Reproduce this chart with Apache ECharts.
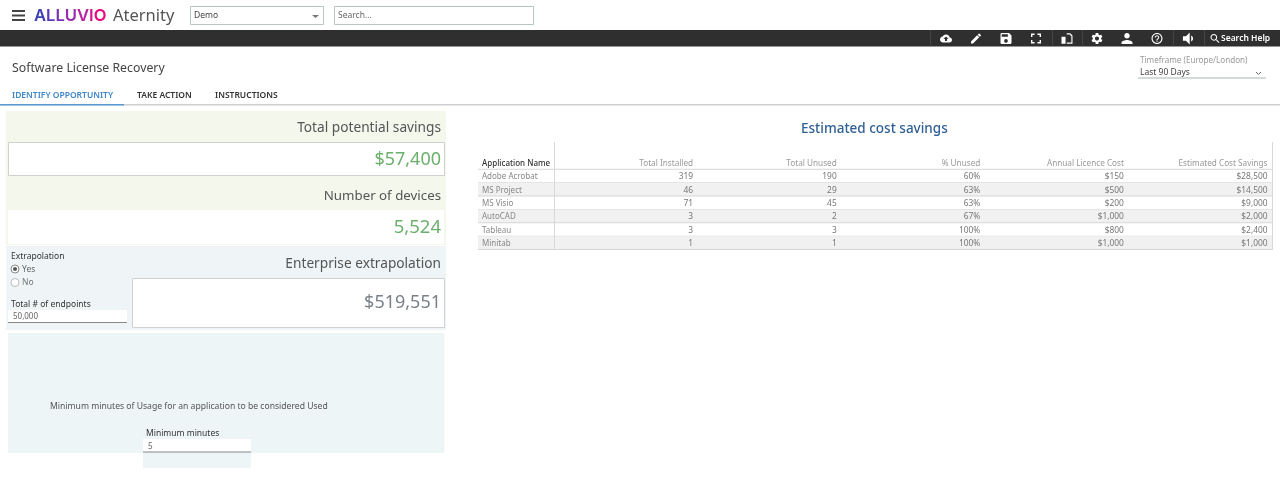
<!DOCTYPE html>
<html lang="en">
<head>
<meta charset="utf-8">
<title>Software License Recovery</title>
<style>
  html, body { margin: 0; padding: 0; background: #fff; overflow: hidden; }
  #main { width: 1280px; height: 495px; }
</style>
</head>
<body>
<div id="main"></div>
<script src="https://cdn.jsdelivr.net/npm/echarts@6/dist/echarts.min.js"></script>
<script>
// table data
var applications = ['Adobe Acrobat', 'MS Project', 'MS Visio', 'AutoCAD', 'Tableau', 'Minitab'];
var columnHeaders = ['Total Installed', 'Total Unused', '% Unused', 'Annual Licence Cost', 'Estimated Cost Savings'];
var totalInstalled = [319, 46, 71, 3, 3, 1];
var totalUnused = [190, 29, 45, 2, 3, 1];
var percentUnused = [60, 63, 63, 67, 100, 100];
var licenceCost = [150, 500, 200, 1000, 800, 1000];
var costSavings = [28500, 14500, 9000, 2000, 2400, 1000];

// headline numbers
var potentialSavings = '$57,400';
var deviceCount = '5,524';
var enterpriseExtrapolation = '$519,551';
var totalEndpoints = '50,000';
var minimumMinutes = '5';

var FONT = '"Noto Sans", sans-serif';
var NAME_HEADER = 'Application Name';
var yCategories = ['', NAME_HEADER].concat(applications);

function money(v) { return '$' + v.toLocaleString('en-US'); }

// one row per column, formatted the way the table shows it
var cells = [];
columnHeaders.forEach(function (h, c) { cells.push({ value: [c, 1], text: h, head: true }); });
applications.forEach(function (app, i) {
  var row = i + 2;
  cells.push({ value: [0, row], text: String(totalInstalled[i]) });
  cells.push({ value: [1, row], text: String(totalUnused[i]) });
  cells.push({ value: [2, row], text: percentUnused[i] + '%' });
  cells.push({ value: [3, row], text: money(licenceCost[i]) });
  cells.push({ value: [4, row], text: money(costSavings[i]) });
});

var rowBands = [];
for (var r = 1; r < yCategories.length; r++) rowBands.push({ value: [0, r] });

// page furniture helpers
function txt(x, y, text, size, fill, opt) {
  opt = opt || {};
  return {
    type: 'text', x: x, y: y + 1, silent: true,  // middle sits about 1px high for this font
    style: {
      text: text, fontSize: size, fill: fill, fontFamily: opt.family || FONT,
      fontWeight: opt.weight || 'normal', align: opt.align || 'left', verticalAlign: 'middle'
    }
  };
}
function box(x, y, w, h, fill, stroke) {
  return {
    type: 'rect', silent: true, shape: { x: x, y: y, width: w, height: h },
    style: { fill: fill, stroke: stroke || null, lineWidth: 1 }
  };
}

// toolbar glyphs: centre x, drawn size, path
var toolbarIcons = [
  [946, 12, 'M19.35 10.04C18.67 6.59 15.64 4 12 4 9.11 4 6.6 5.64 5.35 8.04 2.34 8.36 0 10.91 0 14c0 3.31 2.69 6 6 6h13c2.76 0 5-2.24 5-5 0-2.64-2.05-4.78-4.65-4.96zM14 13v4h-4v-4H7l5-5 5 5h-3z'],
  [976, 10, 'M3 17.25V21h3.75L17.81 9.94l-3.75-3.75L3 17.25zM20.71 7.04c.39-.39.39-1.02 0-1.41l-2.34-2.34c-.39-.39-1.02-.39-1.41 0l-1.83 1.83 3.75 3.75 1.83-1.83z'],
  [1006, 11, 'M17 3H5c-1.11 0-2 .9-2 2v14c0 1.1.89 2 2 2h14c1.1 0 2-.9 2-2V7l-4-4zm-5 16c-1.66 0-3-1.34-3-3s1.34-3 3-3 3 1.34 3 3-1.34 3-3 3zm3-10H5V5h10v4z'],
  [1036, 10, 'M7 14H5v5h5v-2H7v-3zm-2-4h2V7h3V5H5v5zm12 7h-3v2h5v-5h-2v3zM14 5v2h3v3h2V5h-5z'],
  [1067, 11, 'M3 9h7v12H3zM12 3h6l4 4v14H12v-2h8V8l-3-3h-5z'],
  [1097, 11, 'M19.14 12.94c.04-.3.06-.61.06-.94 0-.32-.02-.64-.07-.94l2.03-1.58c.18-.14.23-.41.12-.61l-1.92-3.32c-.12-.22-.37-.29-.59-.22l-2.39.96c-.5-.38-1.03-.7-1.62-.94l-.36-2.54c-.04-.24-.24-.41-.48-.41h-3.84c-.24 0-.43.17-.47.41l-.36 2.54c-.59.24-1.13.57-1.62.94l-2.39-.96c-.22-.08-.47 0-.59.22L2.74 8.87c-.12.21-.08.47.12.61l2.03 1.58c-.05.3-.09.63-.09.94s.02.64.07.94l-2.03 1.58c-.18.14-.23.41-.12.61l1.92 3.32c.12.22.37.29.59.22l2.39-.96c.5.38 1.03.7 1.62.94l.36 2.54c.05.24.24.41.48.41h3.84c.24 0 .44-.17.47-.41l.36-2.54c.59-.24 1.13-.56 1.62-.94l2.39.96c.22.08.47 0 .59-.22l1.92-3.32c.12-.22.07-.47-.12-.61l-2.01-1.58zM12 15.6c-1.98 0-3.6-1.62-3.6-3.6s1.62-3.6 3.6-3.6 3.6 1.62 3.6 3.6-1.62 3.6-3.6 3.6z'],
  [1127, 11, 'M12 12c2.21 0 4-1.79 4-4s-1.79-4-4-4-4 1.79-4 4 1.79 4 4 4zm0 2c-2.67 0-8 1.34-8 4v2h16v-2c0-2.66-5.33-4-8-4z'],
  [1157, 11, 'M11 18h2v-2h-2v2zm1-16C6.48 2 2 6.48 2 12s4.48 10 10 10 10-4.48 10-10S17.52 2 12 2zm0 18c-4.41 0-8-3.59-8-8s3.59-8 8-8 8 3.59 8 8-3.59 8-8 8zm0-14c-2.21 0-4 1.79-4 4h2c0-1.1.9-2 2-2s2 .9 2 2c0 2-3 1.75-3 5h2c0-2.25 3-2.5 3-5 0-2.21-1.79-4-4-4z'],
  [1188, 12, 'M3 9v6h4l5 5V4L7 9H3zm13.5 3c0-1.77-1.02-3.29-2.5-4.03v8.05c1.48-.73 2.5-2.25 2.5-4.02z'],
  [1215, 9, 'M15.5 14h-.79l-.28-.27C15.41 12.59 16 11.11 16 9.5 16 5.91 13.09 3 9.5 3S3 5.91 3 9.5 5.91 16 9.5 16c1.61 0 3.09-.59 4.23-1.57l.27.28v.79l5 4.99L20.49 19l-4.99-5zm-6 0C7.01 14 5 11.99 5 9.5S7.01 5 9.5 5 14 7.01 14 9.5 11.99 14 9.5 14z']
];
var toolbarSeparators = [930, 1052, 1082, 1173, 1204];

// ALLUVIO fades from blue through violet to pink
var logoColors = ['#3f3fb6', '#5a38b6', '#7a30b4', '#9a2ab0', '#bb1fa2', '#d4148f', '#ea0a80'];
var logoRich = {};
var logoText = 'ALLUVIO'.split('').map(function (ch, i) {
  logoRich['c' + i] = { fill: logoColors[i], fontSize: 16.6, fontWeight: 600, fontFamily: '"Inter", sans-serif' };
  return '{c' + i + '|' + ch + '}';
}).join('');

var furniture = [
  // header
  box(12, 10, 13, 2, '#444'), box(12, 14.5, 13, 2, '#444'), box(12, 19, 13, 2, '#444'),
  { type: 'text', x: 34, y: 15.5, silent: true, style: { text: logoText, rich: logoRich, verticalAlign: 'middle' } },
  txt(113, 15.5, 'Aternity', 16.5, '#555'),
  box(190.5, 6.5, 133, 18, '#fff', '#b9c4c4'),
  txt(194, 14.5, 'Demo', 8.5, '#444'),
  { type: 'polygon', silent: true, shape: { points: [[312, 15], [319, 15], [315.5, 18]] }, style: { fill: '#777' } },
  box(334.5, 6.5, 199, 18, '#fff', '#b9c4c4'),
  txt(338, 14.5, 'Search...', 8.5, '#666'),

  // toolbar
  box(0, 30, 1280, 16.5, '#2f2f2f'),
  txt(1221, 37.5, 'Search Help', 8.5, '#fff', { weight: 600 }),

  // title and tabs
  txt(12, 67, 'Software License Recovery', 12.3, '#444'),
  txt(12, 95, 'IDENTIFY OPPORTUNITY', 8.5, '#3f86c8', { weight: 600 }),
  txt(137, 95, 'TAKE ACTION', 8.5, '#333', { weight: 600 }),
  txt(215, 95, 'INSTRUCTIONS', 8.5, '#333', { weight: 600 }),
  box(0, 104, 1280, 1.5, '#cfcfcf'),
  box(0, 104, 124, 1.5, '#5b9bd5'),

  // timeframe
  txt(1140, 59.5, 'Timeframe (Europe/London)', 8.1, '#999'),
  txt(1140, 72, 'Last 90 Days', 8.5, '#444'),
  { type: 'polyline', silent: true, shape: { points: [[1256, 72], [1258.5, 74.5], [1261, 72]] }, style: { stroke: '#666', lineWidth: 1, fill: null } },
  box(1138, 77.5, 128, 1, '#a9b4b4'),

  // savings panels
  box(6, 111, 440, 134, '#f4f7ec'),
  txt(441, 127.5, 'Total potential savings', 13.7, '#555', { align: 'right' }),
  box(8.5, 142.5, 436, 33, '#fff', '#cfd2cd'),
  txt(441, 158.5, potentialSavings, 18, '#6bb06b', { align: 'right' }),
  txt(441, 195, 'Number of devices', 13.3, '#555', { align: 'right' }),
  box(8, 210, 436, 34, '#fff'),
  txt(441, 227, deviceCount, 18.5, '#6bb06b', { align: 'right' }),

  // extrapolation panel
  box(6, 246, 440, 84, '#eff5f6'),
  txt(11, 255.5, 'Extrapolation', 8.5, '#333'),
  { type: 'circle', silent: true, shape: { cx: 15, cy: 269, r: 4 }, style: { fill: '#fff', stroke: '#888', lineWidth: 1 } },
  { type: 'circle', silent: true, shape: { cx: 15, cy: 269, r: 2 }, style: { fill: '#555' } },
  txt(22, 268.5, 'Yes', 8.5, '#666'),
  { type: 'circle', silent: true, shape: { cx: 15, cy: 282.5, r: 4 }, style: { fill: '#fff', stroke: '#bbb', lineWidth: 1 } },
  txt(22, 282, 'No', 8.5, '#777'),
  txt(11, 303.5, 'Total # of endpoints', 8.5, '#333'),
  box(8, 310, 119, 12.5, '#fff'),
  box(8, 322, 119, 1, '#888'),
  txt(13, 316, totalEndpoints, 8, '#666'),
  txt(441, 263, 'Enterprise extrapolation', 13.7, '#555', { align: 'right' }),
  box(132.5, 278.5, 312, 49, '#fff', '#cfd2d2'),
  txt(441, 302, enterpriseExtrapolation, 18, '#7a8088', { align: 'right' }),

  // minimum usage panel
  box(8, 333, 436.5, 120, '#edf5f7'),
  txt(50, 405.5, 'Minimum minutes of Usage for an application to be considered Used', 8.6, '#555'),
  txt(146, 432.5, 'Minimum minutes', 8.5, '#333'),
  box(143, 452, 108, 16, '#eef5f7'),
  box(143, 439, 108, 13, '#fff'),
  box(143, 451.5, 108, 1, '#888'),
  txt(148, 445.5, minimumMinutes, 8, '#666')
];
toolbarSeparators.forEach(function (x) { furniture.push(box(x, 30, 0.6, 16.5, '#555')); });

var chart = echarts.init(document.getElementById('main'));
var option = {
  animation: false,
  backgroundColor: '#fff',
  textStyle: { fontFamily: FONT },
  title: {
    text: 'Estimated cost savings', left: 796, top: 117,
    textStyle: { color: '#2f6096', fontSize: 13.5, fontWeight: 500, fontFamily: FONT }
  },
  graphic: { elements: furniture },
  grid: { left: 554, top: 142.5, width: 718, height: 107 },
  xAxis: { type: 'category', data: columnHeaders, show: false },
  yAxis: [
    {
      type: 'category', data: yCategories, inverse: true,
      axisTick: { show: false },
      axisLine: { lineStyle: { color: '#d8d8d8', width: 1 } },
      axisLabel: {
        interval: 0, align: 'left', margin: 72, fontSize: 8, color: '#888', fontFamily: FONT, padding: [2, 0, 0, 0],
        formatter: function (v) { return v === NAME_HEADER ? '{h|' + v + '}' : v; },
        rich: { h: { color: '#333', fontSize: 8, fontWeight: 500, fontFamily: FONT } }
      },
      z: 5
    },
    {
      type: 'category', data: yCategories, inverse: true, position: 'right',
      axisTick: { show: false }, axisLabel: { show: false },
      axisLine: { show: true, lineStyle: { color: '#d8d8d8', width: 1 } }
    }
  ],
  series: [
    {
      // row stripes and rules, reaching across the name column
      type: 'custom', data: rowBands, silent: true, z: 1,
      renderItem: function (params, api) {
        var row = api.value(1);
        var p = api.coord([0, row]);
        var h = api.size([0, 1])[1];
        var left = params.coordSys.x - 76;
        var width = params.coordSys.width + 76;
        var top = p[1] - h / 2;
        var kids = [];
        if (row > 1 && row % 2 === 1) {
          kids.push({ type: 'rect', shape: { x: left, y: top, width: width, height: h }, style: { fill: '#f1f1f1' } });
        }
        kids.push({ type: 'rect', shape: { x: left, y: top + h - 0.5, width: width, height: 1 }, style: { fill: '#d6d6d6' } });
        return { type: 'group', children: kids };
      }
    },
    {
      type: 'custom', data: cells, silent: true, z: 3,
      renderItem: function (params, api) {
        var cell = cells[params.dataIndex];
        var p = api.coord([api.value(0), api.value(1)]);
        var band = api.size([1, 0])[0];
        return {
          type: 'text', x: p[0] + band / 2 - 4.5, y: p[1] + 1,
          style: {
            text: cell.text, align: 'right', verticalAlign: 'middle', fontSize: cell.head ? 8.2 : 8.4,
            fontFamily: FONT, fill: cell.head ? '#999' : '#777'
          }
        };
      }
    },
    {
      // toolbar glyphs live in a series because the graphic component has no raw path type
      type: 'custom', coordinateSystem: 'none', data: toolbarIcons.map(function (t, i) { return i; }), silent: true, z: 6,
      renderItem: function (params) {
        var t = toolbarIcons[params.dataIndex];
        return {
          type: 'path',
          shape: { pathData: t[2], x: t[0] - t[1] / 2, y: 38.5 - t[1] / 2, width: t[1], height: t[1] },
          style: { fill: '#fff' }
        };
      }
    }
  ]
};
chart.setOption(option);
</script>
</body>
</html>
